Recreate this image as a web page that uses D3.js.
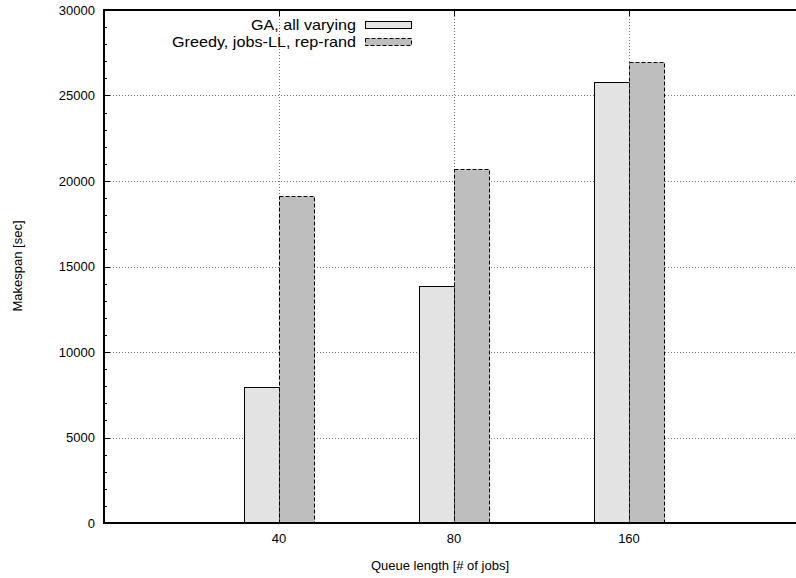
<!DOCTYPE html>
<html>
<head>
<meta charset="utf-8">
<script src="https://cdn.jsdelivr.net/npm/d3@7"></script>
<style>
  body { margin: 0; background: #fff; }
  text { font-family: "Liberation Sans", Arial, sans-serif; font-size: 13px; fill: #000; }
</style>
</head>
<body>
<div id="chart"></div>
<script>
// data
var categories = ["40", "80", "160"];
var gaValues = [7960, 13880, 25770];
var greedyValues = [19150, 20720, 26940];
var seriesNames = ["GA, all varying", "Greedy, jobs-LL, rep-rand"];
var yTicks = [0, 5000, 10000, 15000, 20000, 25000, 30000];

var svgWidth = 796;
var svgHeight = 578;

var margin = { top: 10, left: 104, bottom: 55 };
var height = svgHeight - margin.top - margin.bottom;

var svg = d3.select("#chart")
  .append("svg")
  .attr("width", svgWidth)
  .attr("height", svgHeight);

// x positions 1..3 in a 0..4 span, frame runs off the right edge
var xScale = d3.scaleLinear().domain([0, 4]).range([margin.left, margin.left + 700]);
var yScale = d3.scaleLinear().domain([0, 30000]).range([margin.top + height, margin.top]);
var barW = 35;
var px = v => Math.round(v) + 0.5;

// grid
var grid = svg.append("g").attr("stroke", "#777").attr("stroke-dasharray", "1,2").attr("stroke-width", 1);
yTicks.slice(1, -1).forEach(function(t) {
  grid.append("line")
    .attr("x1", margin.left).attr("x2", svgWidth)
    .attr("y1", px(yScale(t))).attr("y2", px(yScale(t)));
});
categories.forEach(function(c, i) {
  grid.append("line")
    .attr("x1", px(xScale(i + 1))).attr("x2", px(xScale(i + 1)))
    .attr("y1", margin.top).attr("y2", margin.top + height);
});

// bars
svg.append("g").selectAll("rect")
  .data(gaValues)
  .enter()
  .append("rect")
  .attr("x", (d, i) => px(xScale(i + 1)) - barW)
  .attr("y", d => px(yScale(d)))
  .attr("width", barW)
  .attr("height", d => yScale(0) - px(yScale(d)))
  .attr("fill", "#e3e3e3")
  .attr("stroke", "#000")
  .attr("stroke-width", 1);

svg.append("g").selectAll("rect")
  .data(greedyValues)
  .enter()
  .append("rect")
  .attr("x", (d, i) => px(xScale(i + 1)))
  .attr("y", d => px(yScale(d)))
  .attr("width", barW)
  .attr("height", d => yScale(0) - px(yScale(d)))
  .attr("fill", "#bebebe")
  .attr("stroke", "#000")
  .attr("stroke-dasharray", "4,2")
  .attr("stroke-width", 1);

// frame
var frame = svg.append("g").attr("stroke", "#000").attr("stroke-width", 2);
frame.append("line").attr("x1", margin.left - 1).attr("x2", svgWidth).attr("y1", yScale(0)).attr("y2", yScale(0));
frame.append("line").attr("x1", margin.left - 1).attr("x2", svgWidth).attr("y1", yScale(30000)).attr("y2", yScale(30000));
frame.append("line").attr("x1", margin.left).attr("x2", margin.left).attr("y1", yScale(0)).attr("y2", yScale(30000));

// y axis, ticks inward, minor every 1000
var leftAxis = d3.axisLeft(yScale)
  .tickValues(yTicks)
  .tickSize(0)
  .tickPadding(9)
  .tickFormat(d3.format("d"));
var yAxis = svg.append("g")
  .attr("transform", `translate(${margin.left}, 0)`)
  .call(leftAxis);
yAxis.select(".domain").remove();
yAxis.selectAll("text").style("font-size", "13px").attr("font-family", null);

var yTickLines = d3.range(0, 30001, 1000);
svg.append("g").selectAll("line")
  .data(yTickLines)
  .enter()
  .append("line")
  .attr("x1", margin.left).attr("x2", d => margin.left + (d % 5000 === 0 ? 6 : 3))
  .attr("y1", d => px(yScale(d))).attr("y2", d => px(yScale(d)))
  .attr("stroke", "#000");

// x axis labels and top mirror ticks
var xAxis = svg.append("g");
categories.forEach(function(c, i) {
  xAxis.append("text")
    .attr("x", xScale(i + 1))
    .attr("y", yScale(0) + 20)
    .attr("text-anchor", "middle")
    .text(c);
  xAxis.append("line")
    .attr("x1", px(xScale(i + 1))).attr("x2", px(xScale(i + 1)))
    .attr("y1", margin.top).attr("y2", margin.top + 6)
    .attr("stroke", "#000");
});

// axis titles
svg.append("text")
  .attr("x", 440)
  .attr("y", 570)
  .attr("text-anchor", "middle")
  .text("Queue length [# of jobs]");

svg.append("text")
  .attr("transform", "rotate(-90)")
  .attr("x", -266)
  .attr("y", 22)
  .attr("text-anchor", "middle")
  .text("Makespan [sec]");

// legend (gnuplot sets this text wider)
var legend = svg.append("g");
var legendStyles = [
  { fill: "#e3e3e3", dash: null, len: 105 },
  { fill: "#bebebe", dash: "4,2", len: 184 }
];
seriesNames.forEach(function(name, i) {
  var y = 25 + i * 17;
  legend.append("text")
    .attr("x", 356)
    .attr("y", y + 5)
    .attr("text-anchor", "end")
    .attr("textLength", legendStyles[i].len)
    .attr("lengthAdjust", "spacingAndGlyphs")
    .style("font-size", "15px")
    .text(name);
  legend.append("rect")
    .attr("x", 365.5).attr("y", y - 3.5)
    .attr("width", 46).attr("height", 7)
    .attr("fill", legendStyles[i].fill)
    .attr("stroke", "#000")
    .attr("stroke-dasharray", legendStyles[i].dash);
});
</script>
</body>
</html>
